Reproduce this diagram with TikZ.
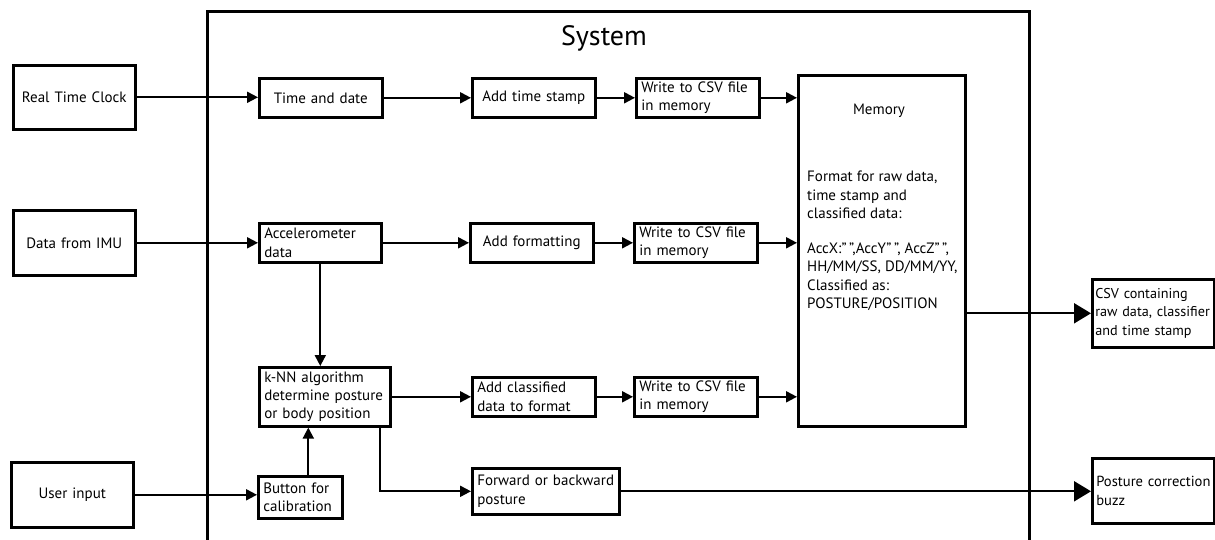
\documentclass[tikz,border=0pt]{standalone}
\usepackage{fontspec}
\setmainfont{PT Sans}
\usetikzlibrary{arrows.meta,calc}
\begin{document}
\begin{tikzpicture}[x=1pt,y=-1pt,
  blk/.style={draw, line width=2.6pt, inner xsep=5pt, inner ysep=0pt, anchor=north west, font=\fontsize{15}{18.3}\selectfont},
  lbox/.style={blk, align=left},
  cbox/.style={blk, align=center},
  conn/.style={line width=2pt, -{Triangle[length=11pt,width=11pt]}},
  bigconn/.style={line width=2pt, -{Triangle[length=17pt,width=20pt]}},
  txt/.style={font=\fontsize{15}{18.5}\selectfont, inner sep=0pt}
]
\useasboundingbox (0,0) rectangle (1215,540);
\fill[white] (0,0) rectangle (1215,540);

% system container
\node[draw, line width=2.6pt, minimum width=822pt, minimum height=560pt, anchor=north west, inner sep=0pt] (sys) at (206,10) {};
\node[font=\fontsize{28}{30}\selectfont, anchor=base, inner sep=0pt] (systitle) at (604,46) {System};

% external inputs
\node[cbox, text width=112pt, minimum height=64pt] (rtc) at (12,64) {Real Time Clock};
\node[cbox, text width=112pt, minimum height=65pt] (imu) at (12,209) {Data from IMU};
\node[cbox, text width=112pt, minimum height=65pt] (user) at (10,461) {User input};

% column 1
\node[cbox, text width=113pt, minimum height=39pt] (td) at (258,77) {Time and date};
\node[lbox, text width=112pt, minimum height=39pt] (acc) at (258,222) {Accelerometer\\data};
\node[lbox, text width=121pt, minimum height=59pt] (knn) at (258,366) {k-NN algorithm\\\mbox{determine posture}\\or body position};
\node[lbox, text width=74pt, minimum height=42pt] (btn) at (257,475) {Button for\\calibration};

% column 2
\node[cbox, text width=113pt, minimum height=39pt] (ats) at (471,77) {Add time stamp};
\node[cbox, text width=113pt, minimum height=39pt] (afm) at (469,222) {Add formatting};
\node[lbox, text width=113pt, minimum height=39pt] (acl) at (471,376) {Add classified\\data to format};
\node[lbox, text width=137pt, minimum height=46pt] (fwd) at (471,467) {\mbox{Forward or backward}\\posture};

% column 3
\node[lbox, text width=113pt, minimum height=39pt] (w1) at (635,77) {\mbox{Write to CSV file}\\in memory};
\node[lbox, text width=113pt, minimum height=39pt] (w2) at (633,222) {\mbox{Write to CSV file}\\in memory};
\node[lbox, text width=113pt, minimum height=39pt] (w3) at (633,376) {\mbox{Write to CSV file}\\in memory};

% memory
\node[draw, line width=2.6pt, minimum width=167pt, minimum height=351pt, anchor=north west, inner sep=0pt] (mem) at (797,74) {};
\node[txt] (memtitle) at (879,111) {Memory};
\node[txt, anchor=north west, align=left] (memtext) at (807,171) {Format for raw data,\\time stamp and\\classified data:\\[16pt]AccX:”\,”,AccY”\,”, AccZ”\,”,\\HH/MM/SS, DD/MM/YY,\\Classified as:\\POSTURE/POSITION};

% outputs
\node[lbox, inner xsep=3pt, text width=116pt, minimum height=68pt, font=\fontsize{14.2}{18.3}\selectfont] (csv) at (1091,278) {\mbox{CSV containing}\\\mbox{raw data, classifier}\\\mbox{and time stamp}};
\node[lbox, inner xsep=4pt, text width=114pt, minimum height=65pt, font=\fontsize{14.6}{18.3}\selectfont] (post) at (1091,457) {\mbox{Posture correction}\\buzz};

% connectors
\draw[conn] (rtc.east) -- (rtc.east -| td.west);
\draw[conn] (td.east) -- (td.east -| ats.west);
\draw[conn] (ats.east) -- (ats.east -| w1.west);
\draw[conn] (w1.east) -- (w1.east -| mem.west);

\draw[conn] (imu.east) -- (imu.east -| acc.west);
\draw[conn] (acc.east) -- (acc.east -| afm.west);
\draw[conn] (afm.east) -- (afm.east -| w2.west);
\draw[conn] (w2.east) -- (w2.east -| mem.west);

\draw[conn] (acc.south) -- (acc.south |- knn.north);
\draw[conn] (knn.east) -- (knn.east -| acl.west);
\draw[conn] (acl.east) -- (acl.east -| w3.west);
\draw[conn] (w3.east) -- (w3.east -| mem.west);

\draw[conn] (user.east) -- (user.east -| btn.west);
\draw[conn] ([xshift=8pt]btn.north) -- ([xshift=8pt]btn.north |- knn.south);
\draw[conn] ([xshift=-12pt]knn.south east) |- (fwd.west);

\draw[bigconn] (mem.east |- csv.west) -- (csv.west);
\draw[bigconn] (fwd.east) -- (fwd.east -| post.west);
\end{tikzpicture}
\end{document}
